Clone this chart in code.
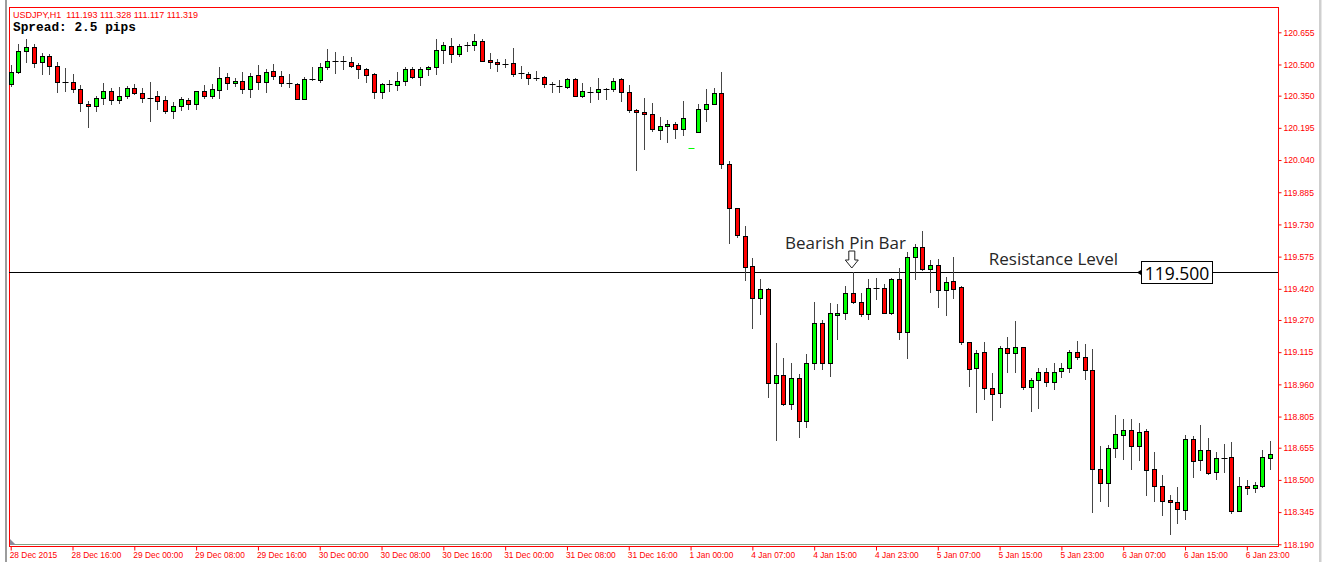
<!DOCTYPE html>
<html>
<head>
<meta charset="utf-8">
<script src="https://cdn.jsdelivr.net/npm/d3@7"></script>
<style>
  html, body { margin: 0; padding: 0; background: #fff; }
  svg { display: block; }
</style>
</head>
<body>
<svg width="1327" height="562"></svg>
<script>
const { select, scaleLinear, axisRight, axisBottom, range } = d3;

// USDJPY H1 candles (oldest first)
const openP = [
  120.405, 120.462, 120.563, 120.583, 120.511, 120.539, 120.491, 120.414, 120.414, 120.381,
  120.308, 120.299, 120.337, 120.371, 120.328, 120.347, 120.385, 120.361, 120.337, 120.347,
  120.328, 120.275, 120.299, 120.328, 120.308, 120.371, 120.347, 120.376, 120.438, 120.409,
  120.419, 120.381, 120.448, 120.414, 120.467, 120.443, 120.409, 120.405, 120.332, 120.429,
  120.424, 120.486, 120.515, 120.515, 120.511, 120.496, 120.477, 120.453, 120.366, 120.405,
  120.400, 120.419, 120.477, 120.438, 120.477, 120.486, 120.568, 120.588, 120.549, 120.592,
  120.592, 120.612, 120.520, 120.511, 120.501, 120.506, 120.458, 120.453, 120.433, 120.438,
  120.405, 120.395, 120.390, 120.429, 120.347, 120.366, 120.366, 120.381, 120.381, 120.429,
  120.366, 120.279, 120.270, 120.260, 120.183, 120.202, 120.212, 120.188, 120.095, 120.173,
  120.284, 120.308, 120.361, 120.019, 119.808, 119.673, 119.528, 119.374, 119.418, 118.965,
  119.004, 118.864, 118.989, 118.782, 119.061, 119.254, 119.061, 119.292, 119.302, 119.398,
  119.355, 119.297, 119.422, 119.422, 119.302, 119.466, 119.211, 119.572, 119.620, 119.514,
  119.533, 119.413, 119.456, 119.427, 119.162, 119.037, 119.114, 118.941, 118.917, 119.134,
  119.109, 119.138, 118.946, 118.979, 119.018, 118.970, 119.023, 119.037, 119.114, 119.090,
  119.028, 118.551, 118.484, 118.652, 118.715, 118.739, 118.662, 118.734, 118.551, 118.469,
  118.402, 118.392, 118.354, 118.695, 118.594, 118.642, 118.537, 118.604, 118.609, 118.349,
  118.469, 118.460, 118.469, 118.604
];
const highP = [
  120.496, 120.597, 120.621, 120.597, 120.554, 120.549, 120.511, 120.482, 120.453, 120.400,
  120.323, 120.347, 120.409, 120.385, 120.390, 120.395, 120.405, 120.385, 120.414, 120.371,
  120.347, 120.318, 120.342, 120.337, 120.371, 120.400, 120.405, 120.486, 120.458, 120.433,
  120.462, 120.458, 120.496, 120.477, 120.501, 120.467, 120.453, 120.409, 120.438, 120.486,
  120.506, 120.573, 120.559, 120.539, 120.535, 120.506, 120.482, 120.458, 120.409, 120.424,
  120.462, 120.486, 120.486, 120.486, 120.491, 120.621, 120.607, 120.626, 120.597, 120.607,
  120.645, 120.621, 120.554, 120.525, 120.525, 120.578, 120.491, 120.462, 120.467, 120.443,
  120.414, 120.424, 120.433, 120.433, 120.409, 120.390, 120.433, 120.385, 120.433, 120.433,
  120.400, 120.284, 120.337, 120.313, 120.246, 120.231, 120.222, 120.323, 120.096, 120.308,
  120.381, 120.385, 120.462, 120.034, 119.808, 119.721, 119.567, 119.466, 119.422, 119.158,
  119.085, 119.061, 119.008, 119.105, 119.355, 119.268, 119.350, 119.345, 119.432, 119.499,
  119.398, 119.466, 119.471, 119.442, 119.471, 119.519, 119.596, 119.634, 119.697, 119.557,
  119.562, 119.475, 119.572, 119.432, 119.162, 119.124, 119.162, 119.013, 119.143, 119.187,
  119.264, 119.138, 118.989, 119.037, 119.037, 119.061, 119.061, 119.124, 119.167, 119.153,
  119.129, 118.662, 118.667, 118.811, 118.792, 118.792, 118.772, 118.744, 118.633, 118.522,
  118.426, 118.464, 118.715, 118.710, 118.763, 118.700, 118.633, 118.671, 118.681, 118.512,
  118.498, 118.488, 118.642, 118.686
];
const lowP = [
  120.395, 120.458, 120.511, 120.486, 120.453, 120.453, 120.366, 120.371, 120.366, 120.275,
  120.198, 120.275, 120.308, 120.308, 120.313, 120.337, 120.356, 120.318, 120.226, 120.284,
  120.265, 120.241, 120.279, 120.284, 120.284, 120.337, 120.337, 120.337, 120.381, 120.395,
  120.361, 120.342, 120.381, 120.366, 120.429, 120.395, 120.390, 120.332, 120.332, 120.424,
  120.414, 120.477, 120.458, 120.477, 120.486, 120.433, 120.414, 120.337, 120.337, 120.371,
  120.376, 120.400, 120.433, 120.400, 120.448, 120.453, 120.506, 120.511, 120.539, 120.563,
  120.568, 120.515, 120.482, 120.467, 120.486, 120.443, 120.433, 120.405, 120.424, 120.390,
  120.366, 120.366, 120.385, 120.347, 120.342, 120.318, 120.332, 120.332, 120.371, 120.323,
  120.270, 119.991, 120.092, 120.178, 120.140, 120.125, 120.145, 120.159, 120.095, 120.173,
  120.226, 120.308, 120.000, 119.639, 119.668, 119.461, 119.230, 119.297, 118.898, 118.691,
  118.859, 118.840, 118.705, 118.753, 119.032, 119.032, 118.999, 119.177, 119.273, 119.350,
  119.288, 119.273, 119.369, 119.302, 119.297, 119.177, 119.085, 119.466, 119.509, 119.403,
  119.331, 119.292, 119.374, 119.153, 118.951, 118.825, 118.888, 118.787, 118.850, 119.018,
  119.018, 118.936, 118.830, 118.845, 118.951, 118.936, 118.994, 119.018, 119.081, 118.984,
  118.344, 118.397, 118.373, 118.609, 118.599, 118.551, 118.594, 118.426, 118.397, 118.330,
  118.238, 118.291, 118.310, 118.512, 118.546, 118.527, 118.503, 118.537, 118.339, 118.349,
  118.431, 118.440, 118.464, 118.551
];
const closeP = [
  120.462, 120.563, 120.583, 120.506, 120.539, 120.491, 120.414, 120.414, 120.381, 120.313,
  120.299, 120.337, 120.371, 120.328, 120.347, 120.385, 120.361, 120.337, 120.337, 120.323,
  120.275, 120.299, 120.332, 120.308, 120.371, 120.347, 120.381, 120.433, 120.409, 120.419,
  120.381, 120.443, 120.414, 120.462, 120.443, 120.409, 120.409, 120.332, 120.429, 120.429,
  120.486, 120.515, 120.515, 120.515, 120.491, 120.477, 120.448, 120.366, 120.405, 120.405,
  120.419, 120.477, 120.438, 120.477, 120.486, 120.568, 120.592, 120.549, 120.588, 120.592,
  120.612, 120.515, 120.511, 120.501, 120.501, 120.453, 120.458, 120.433, 120.433, 120.405,
  120.405, 120.395, 120.429, 120.347, 120.371, 120.366, 120.381, 120.381, 120.419, 120.366,
  120.279, 120.270, 120.260, 120.188, 120.202, 120.212, 120.188, 120.241, 120.096, 120.284,
  120.308, 120.361, 120.019, 119.808, 119.678, 119.524, 119.374, 119.418, 118.965, 119.004,
  118.864, 118.989, 118.782, 119.061, 119.254, 119.061, 119.302, 119.302, 119.398, 119.355,
  119.297, 119.422, 119.422, 119.302, 119.466, 119.211, 119.572, 119.620, 119.514, 119.533,
  119.413, 119.451, 119.418, 119.162, 119.032, 119.109, 118.941, 118.912, 119.134, 119.109,
  119.138, 118.946, 118.979, 119.018, 118.970, 119.018, 119.037, 119.114, 119.090, 119.028,
  118.551, 118.484, 118.652, 118.719, 118.739, 118.662, 118.729, 118.546, 118.469, 118.397,
  118.392, 118.358, 118.695, 118.590, 118.642, 118.532, 118.604, 118.604, 118.349, 118.469,
  118.460, 118.474, 118.609, 118.623
];

// axis labels
const priceTicks = [
  '120.655', '120.500', '120.350', '120.195', '120.040', '119.885', '119.730', '119.575', '119.420',
  '119.270', '119.115', '118.960', '118.805', '118.655', '118.500', '118.345', '118.190'
];
const timeLabels = [
  '28 Dec 2015', '28 Dec 16:00', '29 Dec 00:00', '29 Dec 08:00', '29 Dec 16:00', '30 Dec 00:00',
  '30 Dec 08:00', '30 Dec 16:00', '31 Dec 00:00', '31 Dec 08:00', '31 Dec 16:00', '1 Jan 00:00',
  '4 Jan 07:00', '4 Jan 15:00', '4 Jan 23:00', '5 Jan 07:00', '5 Jan 15:00', '5 Jan 23:00',
  '6 Jan 07:00', '6 Jan 15:00', '6 Jan 23:00'
];
const resistance = 119.5;
const pinBarIndex = 109;

const svg = select('svg');
const red = '#ff0000';

const x = scaleLinear().domain([0, openP.length - 1]).range([10.7, 1270]);
const y = scaleLinear().domain([118.19, 120.655]).range([544.3, 32.3]);

// window borders
svg.append('rect').attr('x', 5).attr('y', 0).attr('width', 2).attr('height', 562).attr('fill', '#9c9c9c');
svg.append('rect').attr('x', 1319).attr('y', 0).attr('width', 2.5).attr('height', 562).attr('fill', '#cfcfcf');

// chart frame
svg.append('line')
  .attr('x1', 9).attr('x2', 1278).attr('y1', 544.5).attr('y2', 544.5)
  .attr('stroke', '#84a284');
svg.append('rect')
  .attr('x', 9.5).attr('y', 7.5).attr('width', 1269).attr('height', 539)
  .attr('fill', 'none').attr('stroke', red);
svg.append('path')
  .attr('d', 'M10,539 L10,545 L16,545 Z')
  .attr('fill', '#8c8c9c');

// header texts
svg.append('text')
  .attr('x', 13).attr('y', 18)
  .attr('font-family', 'Liberation Sans, Arial, sans-serif')
  .attr('font-size', 9)
  .attr('fill', red)
  .style('white-space', 'pre')
  .text('USDJPY,H1  111.193 111.328 111.117 111.319');
svg.append('text')
  .attr('x', 13).attr('y', 30.5)
  .attr('font-family', 'Liberation Mono, DejaVu Sans Mono, monospace')
  .attr('font-weight', 'bold')
  .attr('font-size', 12.8)
  .attr('fill', '#000')
  .text('Spread: 2.5 pips');

// resistance line
const ry = Math.round(y(resistance)) + 0.5;
svg.append('line')
  .attr('x1', 9).attr('x2', 1278).attr('y1', ry).attr('y2', ry)
  .attr('stroke', '#000');

// candles
const candles = range(openP.length).map((i) => ({
  i, o: openP[i], h: highP[i], l: lowP[i], c: closeP[i],
}));
const cx = (d) => Math.round(x(d.i)) + 0.5;

const candleG = svg.append('g')
  .selectAll('g')
  .data(candles)
  .join('g');

candleG.filter((d) => d.h - d.l > 0.002)
  .append('line')
  .attr('x1', cx).attr('x2', cx)
  .attr('y1', (d) => Math.round(y(d.h)))
  .attr('y2', (d) => Math.round(y(d.l)) + 1)
  .attr('stroke', '#464646');

candleG.each(function (d) {
  const g = select(this);
  const top = Math.round(y(Math.max(d.o, d.c)));
  const bottom = Math.round(y(Math.min(d.o, d.c)));
  const color = d.c > d.o ? '#00ff00' : '#ff0000';
  if (d.o === d.c) {
    g.append('line')
      .attr('x1', cx(d) - 3).attr('x2', cx(d) + 3)
      .attr('y1', top + 0.5).attr('y2', top + 0.5)
      .attr('stroke', '#000');
  } else if (Math.abs(y(d.o) - y(d.c)) < 1) {
    g.append('line')
      .attr('x1', cx(d) - 3).attr('x2', cx(d) + 3)
      .attr('y1', top + 0.5).attr('y2', top + 0.5)
      .attr('stroke', color);
  } else {
    g.append('rect')
      .attr('x', cx(d) - 2).attr('width', 4)
      .attr('y', top + 0.5).attr('height', Math.max(1, bottom - top))
      .attr('fill', color)
      .attr('stroke', '#000');
  }
});

// price axis
const yAxisG = svg.append('g')
  .attr('transform', 'translate(1278.5,0)')
  .call(axisRight(y)
    .tickValues(priceTicks.map(Number))
    .tickFormat((d, i) => priceTicks[i])
    .tickSize(3));
yAxisG.select('.domain').remove();
yAxisG.selectAll('.tick line').attr('stroke', red);
yAxisG.selectAll('.tick text')
  .attr('x', 5)
  .attr('fill', red)
  .attr('font-family', 'Liberation Sans, Arial, sans-serif')
  .attr('font-size', 8.6);

// time axis
const xAxisG = svg.append('g')
  .attr('transform', 'translate(0,546.5)')
  .call(axisBottom(x)
    .tickValues(range(0, timeLabels.length * 8, 8))
    .tickFormat((d, i) => timeLabels[i])
    .tickSize(4));
xAxisG.select('.domain').remove();
xAxisG.selectAll('.tick line').attr('stroke', red);
xAxisG.selectAll('.tick text')
  .attr('text-anchor', 'start')
  .attr('x', -1.5)
  .attr('y', 5.5)
  .attr('fill', red)
  .attr('font-family', 'Liberation Sans, Arial, sans-serif')
  .attr('font-size', 8.4);

// price label box
svg.append('path')
  .attr('d', `M1137,${ry} L1141,${ry - 2.5} L1141,${ry + 2.5} Z`)
  .attr('fill', '#000');
svg.append('rect')
  .attr('x', 1141.5).attr('y', 261.5).attr('width', 71).attr('height', 22)
  .attr('fill', '#fff').attr('stroke', '#000');
svg.append('text')
  .attr('x', 1177).attr('y', 280)
  .attr('text-anchor', 'middle')
  .attr('font-family', 'Open Sans, Noto Sans, sans-serif')
  .attr('font-size', 17.5)
  .attr('fill', '#000')
  .text('119.500');

// annotations
const annot = (tx, ty, label) =>
  svg.append('text')
    .attr('x', tx).attr('y', ty)
    .attr('text-anchor', 'middle')
    .attr('font-family', 'Open Sans, Noto Sans, sans-serif')
    .attr('font-size', 17)
    .attr('fill', '#262626')
    .text(label);
annot(845.5, 249, 'Bearish Pin Bar');
annot(1053.5, 264.5, 'Resistance Level');

// hollow arrow over the pin bar
const ax = x(pinBarIndex) - 1;
const tip = ry - 4.5;
svg.append('path')
  .attr('d', `M${ax},${tip} L${ax - 6.5},${tip - 8} L${ax - 3},${tip - 8} L${ax - 3},${tip - 17}
              L${ax + 3},${tip - 17} L${ax + 3},${tip - 8} L${ax + 6.5},${tip - 8} Z`)
  .attr('fill', '#fff')
  .attr('stroke', '#222')
  .attr('stroke-width', 1);
</script>
</body>
</html>
